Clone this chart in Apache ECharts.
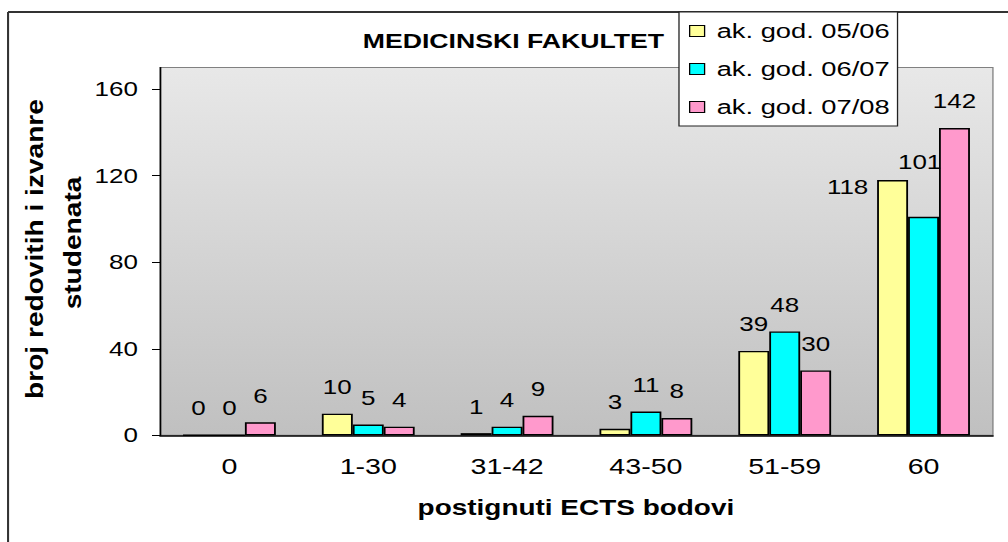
<!DOCTYPE html>
<html>
<head>
<meta charset="utf-8">
<script src="https://cdn.jsdelivr.net/npm/echarts@6/dist/echarts.min.js"></script>
<style>
  html, body { margin: 0; padding: 0; background: #fff; overflow: hidden; }
  /* original je vodoravno razvučen, pa crtamo uže i razvučemo */
  #chart { width: 776px; height: 542px; transform: scaleX(1.3); transform-origin: 0 0; }
</style>
</head>
<body>
<div id="chart"></div>
<script>
// podaci
var categories = ['0', '1-30', '31-42', '43-50', '51-59', '60'];
var seriesNames = ['ak. god. 05/06', 'ak. god. 06/07', 'ak. god. 07/08'];
var values0506 = [0, 10, 1, 3, 39, 118];
var values0607 = [0, 5, 4, 11, 48, 101];
var values0708 = [6, 4, 9, 8, 30, 142];
var yTicks = [0, 40, 80, 120, 160];

var FONT = 'Liberation Sans, Arial, sans-serif';
var colors = ['#FFFF99', '#00FFFF', '#FF99CC'];

// pomaci oznaka koje su u originalu ručno pomaknute
var labelOffsets = {
    '0-5': [-34.6, 34],
    '1-5': [-3, -28]
};

function buildData(values, s) {
    return values.map(function (v, i) {
        var off = labelOffsets[s + '-' + i];
        if (off) {
            return {value: v, label: {offset: off}};
        }
        return v;
    });
}

var chart = echarts.init(document.getElementById('chart'), null, {renderer: 'svg'});

var allValues = [values0506, values0607, values0708];

var yTitleStyle = {
    fontFamily: FONT,
    fontSize: 19,
    fontWeight: 'bold',
    fill: '#000',
    align: 'center',
    verticalAlign: 'middle'
};

option = {
    animation: false,
    title: {
        text: 'MEDICINSKI FAKULTET',
        left: 279,
        top: 30,
        padding: 0,
        textStyle: {
            fontFamily: FONT,
            fontSize: 20.5,
            fontWeight: 'bold',
            color: '#000'
        }
    },
    legend: {
        orient: 'vertical',
        left: 522.3,
        top: 12,
        padding: [8.5, 6, 8.5, 7.7],
        itemGap: 17,
        itemWidth: 11.5,
        itemHeight: 11,
        icon: 'rect',
        backgroundColor: '#fff',
        borderColor: '#222',
        borderWidth: 1,
        itemStyle: {
            borderColor: '#000',
            borderWidth: 1
        },
        textStyle: {
            fontFamily: FONT,
            fontSize: 21,
            color: '#000',
            padding: [0, 0, 0, 4.3]
        },
        data: seriesNames
    },
    grid: {
        left: 123.1,
        right: 12.2,
        top: 67.5,
        bottom: 106.7,
        show: true,
        borderColor: '#808080',
        borderWidth: 1,
        backgroundColor: new echarts.graphic.LinearGradient(0, 0, 0, 1, [
            {offset: 0, color: '#E8E8E8'},
            {offset: 1, color: '#C0C0C0'}
        ])
    },
    xAxis: {
        type: 'category',
        data: categories,
        axisLine: {lineStyle: {color: '#000', width: 1.5}},
        axisTick: {length: 8, lineStyle: {color: '#000', width: 0.9}},
        axisLabel: {
            fontFamily: FONT,
            fontSize: 22,
            color: '#000',
            margin: 20
        }
    },
    yAxis: {
        type: 'value',
        min: 0,
        max: 170,
        interval: 40,
        splitLine: {show: false},
        axisLine: {show: true, lineStyle: {color: '#000', width: 1.2}},
        axisTick: {show: true, length: 6.2, customValues: yTicks, lineStyle: {color: '#000'}},
        axisLabel: {
            customValues: yTicks,
            fontFamily: FONT,
            fontSize: 20,
            color: '#000',
            margin: 17
        }
    },
    series: seriesNames.map(function (name, s) {
        return {
            name: name,
            type: 'bar',
            barWidth: 23.8,
            barGap: 0,
            data: buildData(allValues[s], s),
            itemStyle: {
                color: colors[s],
                borderColor: '#000',
                borderWidth: 1.4
            },
            label: {
                show: true,
                position: 'top',
                distance: 16.5,
                fontFamily: FONT,
                fontSize: 20,
                color: '#000'
            }
        };
    }),
    graphic: [
        {
            type: 'line',
            shape: {x1: 6.2, y1: 12, x2: 776, y2: 12},
            style: {stroke: '#333', lineWidth: 2}
        },
        {
            type: 'line',
            shape: {x1: 6.2, y1: 12, x2: 6.2, y2: 542},
            style: {stroke: '#333', lineWidth: 1.6}
        },
        {
            type: 'text',
            x: 26.9,
            y: 249,
            rotation: Math.PI / 2,
            scaleX: 1.48,
            style: echarts.util.extend({text: 'broj redovitih i izvanre'}, yTitleStyle)
        },
        {
            type: 'text',
            x: 56.2,
            y: 243,
            rotation: Math.PI / 2,
            scaleX: 1.48,
            style: echarts.util.extend({text: 'studenata'}, yTitleStyle)
        },
        {
            type: 'text',
            x: 443,
            y: 507,
            style: {
                text: 'postignuti ECTS bodovi',
                fontFamily: FONT,
                fontSize: 21.5,
                fontWeight: 'bold',
                fill: '#000',
                align: 'center',
                verticalAlign: 'middle'
            }
        }
    ]
};

chart.setOption(option);
</script>
</body>
</html>
